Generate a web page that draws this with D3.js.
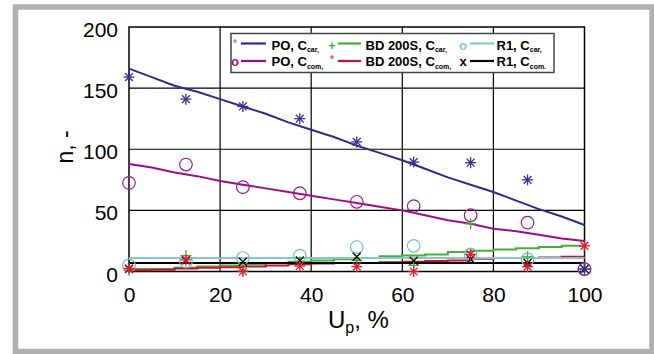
<!DOCTYPE html>
<html><head><meta charset="utf-8">
<script src="https://cdn.jsdelivr.net/npm/d3@7"></script>
<style>html,body{margin:0;padding:0;background:#fff;}svg{display:block;}</style>
</head><body>
<svg id="chart" width="654" height="354"></svg>
<script>
// ---- data ----
const xTicks = [0, 20, 40, 60, 80, 100];
const yTicks = [0, 50, 100, 150, 200];
const markerX = [0, 12.5, 25, 37.5, 50, 62.5, 75, 87.5, 100];
const lineX = [0,5,10,15,20,25,30,35,40,45,50,55,60,65,70,75,80,85,90,95,100];

const poCarLine = [166,159,152,147,141,135,129,122,116,110,103,97,91,84,77,71,65,58,51,45,38];
const poComLine = [88,85,81,78,74,71,68,65,62,59,56,53,50,46,42,39,35,33,30,27,25];
const bdCarLine = [2,2,3,4,5,6,7,8,9,10,11,12.5,13,14,16,17,18,19,20,21,21];
const bdComLine = [1,1.5,2.5,3,3.5,4,5,6,6.5,7,7,7.5,8,8.5,9,10.5,11,11,11.5,12,12];
const r1CarLine = [11,11,11,11,11,11,11,11,11,11,11,11,11,11,11,11,11,11,11,11,11];
const r1ComLine = [7,7,7,7,7,7,7,7,7,7,7,7,7,7,7,7,7,7,7,7,7];

const poCarPts = [159,141,135,125,106,89.5,89,75,2];
const poComPts = [72.5,87.5,69,64,57,53.5,46,40,2];
const bdCarPts = [1,13,1,8,9,5,39,12,2];
const bdComPts = [2.5,9.5,0,4.5,4,0,14,4,21];
const r1CarPts = [5,8,11,13,20,21,14,10,2];
const r1ComPts = [2,9,8,9,12,8.8,10,7,2];

const legendLabels = ["PO, C","PO, C","BD 200S, C","BD 200S, C","R1, C","R1, C"];
const legendSubs = ["car,","com,","car,","com,","car,","com."];

// ---- setup ----
const svg = d3.select("#chart");
const x = d3.scaleLinear().domain([0,100]).range([129,584.5]);
const y = d3.scaleLinear().domain([0,200]).range([271.5,27]);
const font = "'Liberation Sans', Arial, sans-serif";

// outer frame
svg.append("rect").attr("x",15.5).attr("y",7).attr("width",636.5).attr("height",344.5)
  .attr("fill","#fff").attr("stroke","#b0b0b0").attr("stroke-width",5.5);

// grid
const g = svg.append("g");
g.selectAll("line.vg").data(xTicks.slice(1,-1)).join("line")
  .attr("x1",d=>x(d)).attr("x2",d=>x(d)).attr("y1",y(0)).attr("y2",y(200))
  .attr("stroke","#000").attr("stroke-width",1.2);
g.selectAll("line.hg").data(yTicks.slice(1,-1)).join("line")
  .attr("y1",d=>y(d)).attr("y2",d=>y(d)).attr("x1",x(0)).attr("x2",x(100))
  .attr("stroke","#000").attr("stroke-width",1.2);
g.append("rect").attr("x",x(0)).attr("y",y(200)).attr("width",x(100)-x(0)).attr("height",y(0)-y(200))
  .attr("fill","none").attr("stroke","#000").attr("stroke-width",1.5);

// axes tick labels
const xAxis = d3.axisBottom(x).tickValues(xTicks).tickSize(0).tickPadding(14);
const yAxis = d3.axisLeft(y).tickValues(yTicks).tickSize(0).tickPadding(11);
const gx = svg.append("g").attr("transform",`translate(0,${y(0)})`).call(xAxis);
const gy = svg.append("g").attr("transform",`translate(${x(0)},0)`).call(yAxis);
[gx,gy].forEach(a=>{a.select(".domain").remove();
  a.selectAll("text").attr("font-family",font).attr("font-size",21).attr("fill","#000");});
gx.selectAll("text").attr("dy","0.71em").attr("y",16);
gy.selectAll("text").attr("dy","0.36em").attr("y",2);

// axis titles
svg.append("text").attr("transform","translate(73,147) rotate(-90)")
  .attr("text-anchor","middle").attr("font-family",font).attr("font-size",23).text("n, -");
const xt = svg.append("text").attr("x",328).attr("y",328).attr("font-family",font).attr("font-size",24);
xt.append("tspan").text("U");
xt.append("tspan").attr("font-size",16).attr("dy",5).text("p");
xt.append("tspan").attr("dy",-5).text(", %");

// lines
const lineGen = (curve)=>d3.line().x((d,i)=>x(lineX[i])).y(d=>y(d)).curve(curve);
const series = [
  {data:poCarLine,color:"#2e2a86",curve:d3.curveLinear},
  {data:poComLine,color:"#9a0e84",curve:d3.curveLinear},
  {data:bdCarLine,color:"#44ad3c",curve:d3.curveStepAfter},
  {data:bdComLine,color:"#c5102f",curve:d3.curveStepAfter},
  {data:r1CarLine,color:"#86c8ca",curve:d3.curveLinear},
  {data:r1ComLine,color:"#000",curve:d3.curveLinear}
];
series.forEach(s=>{
  svg.append("path").datum(s.data).attr("d",lineGen(s.curve)(s.data))
    .attr("fill","none").attr("stroke",s.color).attr("stroke-width",2);
});

// markers
function star(sel,color,r){
  [0,45,90,135].forEach(a=>{
    const rad=a*Math.PI/180;
    sel.append("line").attr("x1",-r*Math.cos(rad)).attr("y1",-r*Math.sin(rad))
      .attr("x2",r*Math.cos(rad)).attr("y2",r*Math.sin(rad))
      .attr("stroke",color).attr("stroke-width",1.3);
  });
}
function plus(sel,color,r){
  sel.append("line").attr("x1",-r).attr("x2",r).attr("y1",0).attr("y2",0).attr("stroke",color).attr("stroke-width",1.3);
  sel.append("line").attr("y1",-r).attr("y2",r).attr("x1",0).attr("x2",0).attr("stroke",color).attr("stroke-width",1.3);
}
function cross(sel,color,r){
  sel.append("line").attr("x1",-r).attr("x2",r).attr("y1",-r).attr("y2",r).attr("stroke",color).attr("stroke-width",1.3);
  sel.append("line").attr("x1",-r).attr("x2",r).attr("y1",r).attr("y2",-r).attr("stroke",color).attr("stroke-width",1.3);
}
function circ(sel,color,r){
  sel.append("circle").attr("r",r).attr("fill","none").attr("stroke",color).attr("stroke-width",1.2);
}
const markerSets = [
  {data:r1CarPts,color:"#6fbcc0",fn:circ,r:6.3},
  {data:poComPts,color:"#a0168c",fn:circ,r:6.3},
  {data:bdCarPts,color:"#3fae36",fn:plus,r:5.5},
  {data:r1ComPts,color:"#000",fn:cross,r:4},
  {data:bdComPts,color:"#e0182f",fn:star,r:5.5},
  {data:poCarPts,color:"#3a3090",fn:star,r:5.5}
];
markerSets.forEach(m=>{
  m.data.forEach((v,i)=>{
    const mg = svg.append("g").attr("transform",`translate(${x(markerX[i])},${y(v)})`);
    m.fn(mg,m.color,m.r);
  });
});

// legend
const lg = svg.append("g");
lg.append("rect").attr("x",231).attr("y",33.5).attr("width",323).attr("height",39)
  .attr("fill","#fff").attr("stroke","#444").attr("stroke-width",1.5);
const legendMarkers = ["*","o","+","*","o","x"];
const legendMarkerColors = ["#8c80cc","#9a0e84","#44ad3c","#e0506a","#86c8ca","#000"];
const lineColors = series.map(s=>s.color);
const colMarkerX = [235,332,463];
const colLineX = [[241,266],[338,361],[470,494]];
const colTextX = [271.5,365.5,496.5];
const rowBase = [49.5,66];
const rowLineY = [43.5,61];
[0,1,2].forEach(c=>{
  [0,1].forEach(r=>{
    const k = c*2+r;
    const mk = legendMarkers[k];
    lg.append("text").attr("x",colMarkerX[c]).attr("y",rowBase[r] - (mk==="*"?3:0))
      .attr("text-anchor","middle").attr("font-family",font).attr("font-weight","bold")
      .attr("font-size",mk==="*"?10:13).attr("fill",legendMarkerColors[k]).text(mk);
    lg.append("line").attr("x1",colLineX[c][0]).attr("x2",colLineX[c][1])
      .attr("y1",rowLineY[r]).attr("y2",rowLineY[r]).attr("stroke",lineColors[k]).attr("stroke-width",2.2);
    const t = lg.append("text").attr("x",colTextX[c]).attr("y",rowBase[r])
      .attr("font-family",font).attr("font-weight","bold").attr("font-size",13).attr("fill","#000");
    t.append("tspan").text(legendLabels[k]);
    t.append("tspan").attr("font-size",7).attr("dy",2.5).text(legendSubs[k]);
  });
});
</script>
</body></html>
